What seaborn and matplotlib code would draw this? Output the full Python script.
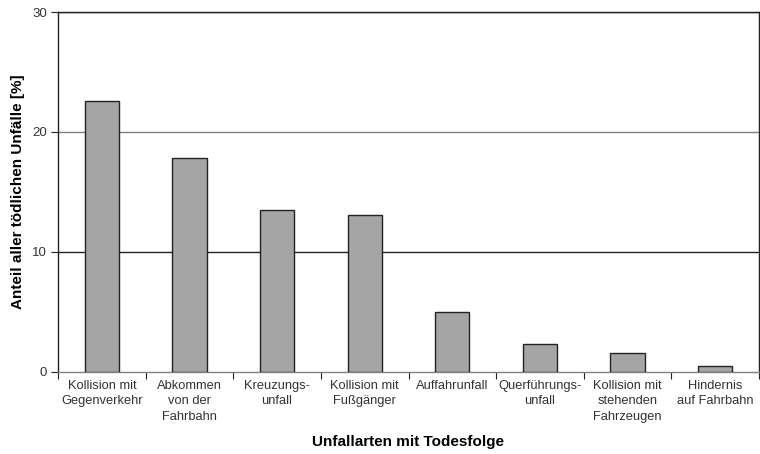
import matplotlib
matplotlib.use("Agg")
import matplotlib.pyplot as plt
import seaborn as sns
import pandas as pd
import numpy as np

# categories and values
categories = [
    "Kollision mit\nGegenverkehr",
    "Abkommen\nvon der\nFahrbahn",
    "Kreuzungs-\nunfall",
    "Kollision mit\nFußgänger",
    "Auffahrunfall",
    "Querführungs-\nunfall",
    "Kollision mit\nstehenden\nFahrzeugen",
    "Hindernis\nauf Fahrbahn",
]
shares = [22.6, 17.8, 13.5, 13.1, 5.0, 2.3, 1.6, 0.5]
y_ticks = [0, 10, 20, 30]

df = pd.DataFrame({"kategorie": categories, "anteil": shares})

sns.set_style("white")
plt.rcParams["font.family"] = ["Liberation Sans", "DejaVu Sans"]

fig = plt.figure(figsize=(7.6, 4.54), dpi=100)
ax = fig.add_axes([58 / 760, (454 - 372) / 454, 701 / 760, 360 / 454])

sns.barplot(data=df, x="kategorie", y="anteil", color="#a5a5a5",
            edgecolor="#222222", linewidth=1.0, width=0.39,
            saturation=1, ax=ax, zorder=3)

ax.set_ylim(0, 30)
ax.set_xlim(-0.5, len(categories) - 0.5)
ax.set_yticks(y_ticks)
ax.set_yticklabels([str(v) for v in y_ticks], fontsize=9.5, color="#333333")

# horizontal grid lines like the original
for v in y_ticks[1:]:
    ax.axhline(v, color="#808080" if v == 20 else "#222222", lw=1.0, zorder=1)

ax.set_xticks(range(len(categories)))
ax.set_xticklabels(categories, fontsize=9.3, color="#333333", linespacing=1.35,
                   va="top")
ax.tick_params(axis="x", which="major", length=0, pad=6)
ax.set_xticks(np.arange(-0.5, len(categories)), minor=True)
ax.tick_params(axis="x", which="minor", length=5, width=0.8, color="#222222",
               direction="out", bottom=True)
ax.tick_params(axis="y", length=5, width=0.8, color="#222222",
               direction="out", left=True, pad=3)

for side in ["left", "bottom", "right", "top"]:
    ax.spines[side].set_visible(True)
    ax.spines[side].set_color("#222222")
    ax.spines[side].set_linewidth(1.0)
ax.spines["bottom"].set_color("#808080")

ax.set_xlabel("Unfallarten mit Todesfolge", fontsize=11, fontweight="bold",
              labelpad=9, color="black")
ax.set_ylabel("Anteil aller tödlichen Unfälle [%]", fontsize=11,
              fontweight="bold", labelpad=5, color="black")

fig.savefig("out.png", dpi=100, facecolor="white")
